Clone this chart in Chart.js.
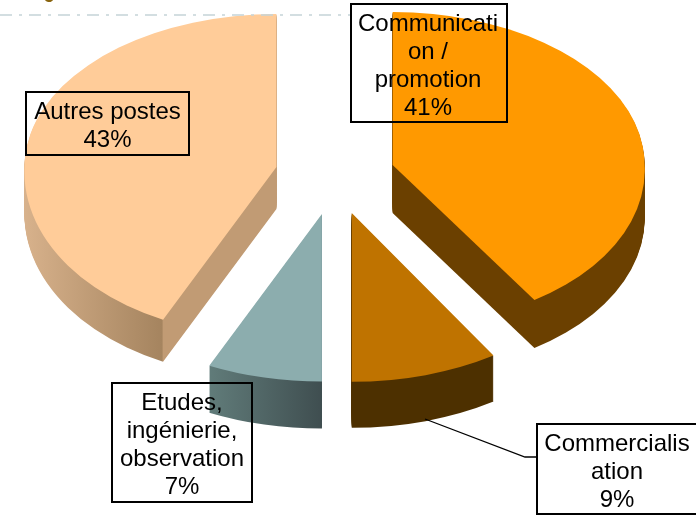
<!DOCTYPE html>
<html lang="fr">
<head>
<meta charset="utf-8">
<title>Répartition des postes</title>
<script src="https://cdn.jsdelivr.net/npm/chart.js@4"></script>
<style>
    html, body { margin: 0; padding: 0; background: #fff; overflow: hidden; }
    #wrap { position: relative; width: 696px; height: 515px; }
</style>
</head>
<body>
<div id="wrap"><canvas id="pieChart" width="696" height="515"></canvas></div>
<script>
// Data
const categories = ['Communication / promotion', 'Commercialisation', 'Etudes, ingénierie, observation', 'Autres postes'];
const shares = [41, 9, 7, 43];
// the labels wrap mid-word in the original
const labelLines = [
    ['Communicati', 'on /', 'promotion'],
    ['Commercialis', 'ation'],
    ['Etudes,', 'ingénierie,', 'observation'],
    ['Autres postes']
];

// Look
const topColors = ['#FF9900', '#BF7300', '#8CADAE', '#FFCC99'];
// gradient stops run from the left end of the pie (0) to its centre (1)
const sideStops = [
    [[0, '#6B4000'], [1, '#6B4000']],
    [[0, '#4D3000'], [1, '#4D3000']],
    [[0.57, '#617C7A'], [1, '#3F4E50']],
    [[0, '#D8B28C'], [0.57, '#A5845F'], [0.575, '#C19B74'], [1, '#C19B74']]
];
const sideDepth = [48, 46, 47, 42];
const lowerTilt = [0.635, 0.67, 0.665, 0.67];
// fake perspective: the front of the pie spreads out a little
const lowerStretch = [1, 1.05, 1.05, 1];
const lowerShear = [0.05, 0, 0, -0.04];
const upperTilt = 0.607;
const centerTilt = 0.65;
const explode = 60;

const labelBoxes = [
    { x: 351, y: 4, w: 156, h: 118 },
    { x: 537, y: 424, w: 170, h: 90 },
    { x: 112, y: 383, w: 140, h: 119 },
    { x: 26, y: 92, w: 163, h: 63 }
];

// one half of the slice (above or below its tip), squashed into an ellipse
function drawHalf(ctx, arc, tip, i, isUpper, shift) {
    const { width } = ctx.canvas;
    ctx.save();
    ctx.beginPath();
    if (isUpper) {
        ctx.rect(0, -600, width, 600 + tip.y + shift);
    } else {
        ctx.rect(0, tip.y + shift, width, 1200);
    }
    ctx.clip();
    ctx.translate(arc.x + tip.dx, tip.y + shift);
    if (!isUpper) {
        ctx.transform(lowerStretch[i], 0, lowerShear[i], 1, 0, 0);
    }
    ctx.scale(1, isUpper ? upperTilt : lowerTilt[i]);
    ctx.translate(-arc.x, -arc.y);
    arc.draw(ctx);
    ctx.restore();
}

const pie3d = {
    id: 'pie3d',
    beforeDatasetDraw(chart) {
        const ctx = chart.ctx;
        const arcs = chart.getDatasetMeta(0).data;
        arcs.forEach((arc, i) => {
            const plain = arc.options;
            const mid = (arc.startAngle + arc.endAngle) / 2;
            const tip = {
                dx: Math.cos(mid) * explode,
                y: Math.round(arc.y + Math.sin(mid) * explode * centerTilt)
            };

            // side wall: same arc stamped downwards
            const grad = ctx.createLinearGradient(arc.x - arc.outerRadius, 0, arc.x, 0);
            sideStops[i].forEach(s => grad.addColorStop(s[0], s[1]));
            arc.options = Object.assign({}, plain, { backgroundColor: grad });
            for (let d = sideDepth[i]; d >= 1; d--) {
                drawHalf(ctx, arc, tip, i, true, d);
                drawHalf(ctx, arc, tip, i, false, d);
            }
            arc.options = plain;

            drawHalf(ctx, arc, tip, i, true, 0);
            drawHalf(ctx, arc, tip, i, false, 0);
        });
        return false;
    },
    afterDraw(chart) {
        const ctx = chart.ctx;
        ctx.save();

        // cut-off title descender at the very top of the picture
        ctx.strokeStyle = '#8A6510';
        ctx.lineWidth = 2;
        ctx.beginPath();
        ctx.arc(49, -3, 4, 0.2, Math.PI - 0.2);
        ctx.stroke();

        // dash-dot rule behind the top of the chart
        ctx.strokeStyle = '#C5D3D8';
        ctx.lineWidth = 1.5;
        ctx.setLineDash([12, 7, 3, 7]);
        ctx.beginPath();
        ctx.moveTo(0, 15);
        ctx.lineTo(351, 15);
        ctx.stroke();
        ctx.setLineDash([]);

        // leader of the Commercialisation label
        ctx.strokeStyle = '#000';
        ctx.lineWidth = 1.3;
        ctx.beginPath();
        ctx.moveTo(425, 419);
        ctx.lineTo(525, 457);
        ctx.lineTo(537, 457);
        ctx.stroke();

        ctx.font = '24px "Liberation Sans", Arial, sans-serif';
        ctx.textAlign = 'center';
        ctx.textBaseline = 'middle';
        ctx.fillStyle = '#000';
        ctx.lineWidth = 2;
        labelBoxes.forEach((box, i) => {
            ctx.strokeRect(box.x, box.y, box.w, box.h);
            const lines = labelLines[i].concat(shares[i] + '%');
            const boxCenter = box.y + box.h / 2;
            lines.forEach((line, n) => {
                const y = boxCenter + (n - (lines.length - 1) / 2) * 28;
                const cx = i === 1 ? box.x + 80 : box.x + box.w / 2 - (i === 0 ? 1 : 0);
                ctx.fillText(line, cx, y + 3);
            });
        });
        ctx.restore();
    }
};

new Chart(document.getElementById('pieChart'), {
    type: 'pie',
    data: {
        labels: categories,
        datasets: [{
            data: shares,
            backgroundColor: topColors,
            borderWidth: 0,
            radius: 252
        }]
    },
    options: {
        responsive: false,
        animation: false,
        layout: { padding: { right: 26, bottom: 163 } },
        plugins: {
            legend: { display: false },
            tooltip: { enabled: false }
        }
    },
    plugins: [pie3d]
});
</script>
</body>
</html>
